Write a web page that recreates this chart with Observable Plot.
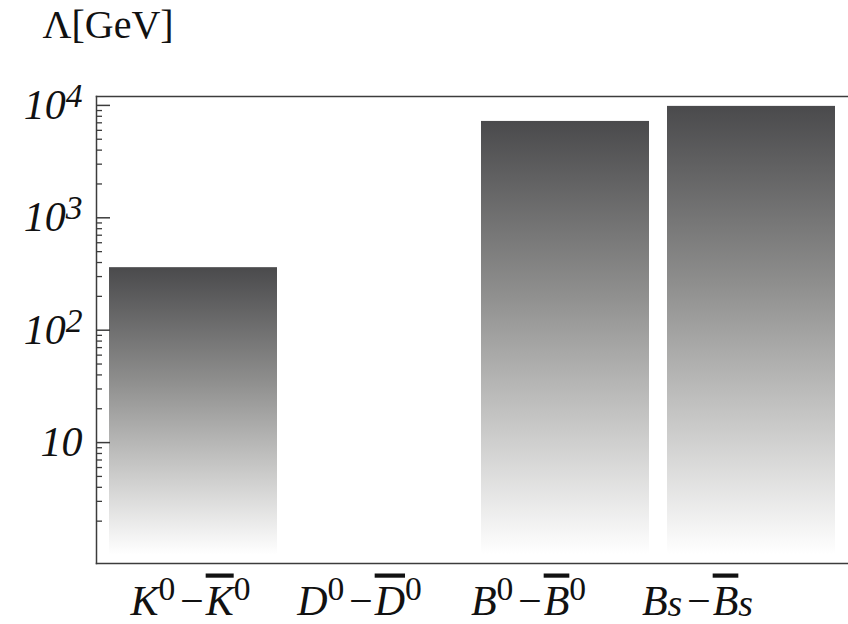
<!DOCTYPE html>
<html>
<head>
<meta charset="utf-8">
<script src="https://cdn.jsdelivr.net/npm/d3@7"></script>
<script src="https://cdn.jsdelivr.net/npm/@observablehq/plot@0.6"></script>
<style>
  html, body { margin: 0; padding: 0; background: #fff; }
  tspan.bar { text-decoration: overline; text-decoration-thickness: 2px; }
</style>
</head>
<body>
<div id="chart"></div>
<script>
// Mixing systems; markup: ^x superscript, _x subscript, ~x overlined letter
const systems = ["K^0−~K^0", "D^0−~D^0", "B^0−~B^0", "B_s−~B_s"];
// Λ scale in GeV (no bound drawn for D mixing)
const lambdaGeV = [360, null, 7200, 9800];
const barBase = 1;

const majorTicks = [10, 100, 1000, 10000];
const majorTickLabels = ["10", "10^2", "10^3", "10^4"];
const minorTicks = [1, 10, 100, 1000].flatMap(d => [2, 3, 4, 5, 6, 7, 8, 9].map(m => m * d));

const rows = systems
  .map((system, i) => ({system, value: lambdaGeV[i]}))
  .filter(d => d.value != null);

const serif = "'Liberation Serif', 'Times New Roman', serif";
const ink = "#3c3c3c";

const chart = Plot.plot({
  width: 848,
  height: 624,
  marginLeft: 96,
  marginTop: 96,
  marginRight: 0,
  marginBottom: 61,
  x: {type: "band", domain: systems, paddingInner: 0.097, paddingOuter: 0.07, axis: null},
  y: {type: "log", domain: [0.84, 12000], label: null},
  marks: [
    Plot.barY(rows, {x: "system", y1: barBase, y2: "value", fill: "url(#barShade)"}),
    Plot.frame({anchor: "left", stroke: ink, strokeWidth: 1.5}),
    Plot.frame({anchor: "top", stroke: ink, strokeWidth: 1.5}),
    Plot.frame({anchor: "bottom", stroke: ink, strokeWidth: 1.5}),
    // inward ticks on the left edge
    Plot.axisY(minorTicks, {tickSize: 6, dx: 6, tickFormat: () => "", label: null, stroke: ink, strokeWidth: 1.3}),
    Plot.axisY(majorTicks, {tickSize: 14, dx: 14, tickFormat: () => "", label: null, stroke: ink, strokeWidth: 1.5}),
    Plot.axisY(majorTicks, {
      tickSize: 0, tickPadding: 14, label: null,
      tickFormat: d => majorTickLabels[majorTicks.indexOf(d)],
      fontFamily: serif, fontSize: 42, fontStyle: "italic", fill: "#111"
    }),
    // system names under the bars
    ...systems.map((s, i) => Plot.text([s], {
      x: d => d, text: d => d, frameAnchor: "bottom", lineAnchor: "bottom",
      dy: 51, dx: -3 - 17 * i,
      fontFamily: serif, fontSize: 42, fontStyle: "italic", fill: "#111"
    })),
    Plot.text(["Λ[GeV]"], {
      frameAnchor: "top-left", textAnchor: "start", lineAnchor: "bottom",
      dx: -54, dy: -59, fontFamily: serif, fontSize: 40, fill: "#111"
    })
  ]
});

// vertical shading of the bars: dark at the top, fading to white at the base
const ns = "http://www.w3.org/2000/svg";
const defs = document.createElementNS(ns, "defs");
const grad = document.createElementNS(ns, "linearGradient");
grad.setAttribute("id", "barShade");
grad.setAttribute("x1", "0"); grad.setAttribute("y1", "0");
grad.setAttribute("x2", "0"); grad.setAttribute("y2", "1");
[[0, "#4a4a4c"], [0.4, "#8f8f8e"], [0.72, "#cbcbca"], [1, "#ffffff"]].forEach(([o, c]) => {
  const s = document.createElementNS(ns, "stop");
  s.setAttribute("offset", o);
  s.setAttribute("stop-color", c);
  grad.appendChild(s);
});
defs.appendChild(grad);
chart.insertBefore(defs, chart.firstChild);

// turn the little markup into tspans (superscripts, subscripts, overbars)
function typeset(textEl, src, {raise, lower, supScale, subScale, uprightDigits}) {
  textEl.textContent = "";
  let shift = 0;
  for (let i = 0; i < src.length; i++) {
    let ch = src[i];
    let kind = "";
    if (ch === "^" || ch === "_" || ch === "~") { kind = ch; ch = src[++i]; }
    const t = document.createElementNS(ns, "tspan");
    const target = kind === "^" ? -raise : kind === "_" ? lower : 0;
    if (target !== shift) t.setAttribute("dy", target - shift);
    shift = target;
    if (kind === "^") t.setAttribute("font-size", supScale);
    if (kind === "_") t.setAttribute("font-size", subScale);
    if (kind === "~") t.setAttribute("class", "bar");
    if (uprightDigits && /[0-9]/.test(ch)) t.setAttribute("font-style", "normal");
    if (ch === "−") t.setAttribute("dx", 2);
    t.textContent = ch;
    textEl.appendChild(t);
  }
}

d3.select(chart).selectAll("text").each(function () {
  const src = this.textContent;
  if (systems.includes(src)) {
    typeset(this, src, {raise: 15, lower: 1, supScale: "80%", subScale: "90%", uprightDigits: true});
  } else if (majorTickLabels.includes(src) && /\^/.test(src)) {
    typeset(this, src, {raise: 12, lower: 0, supScale: "80%", subScale: "80%", uprightDigits: false});
  }
});

document.getElementById("chart").appendChild(chart);
</script>
</body>
</html>
